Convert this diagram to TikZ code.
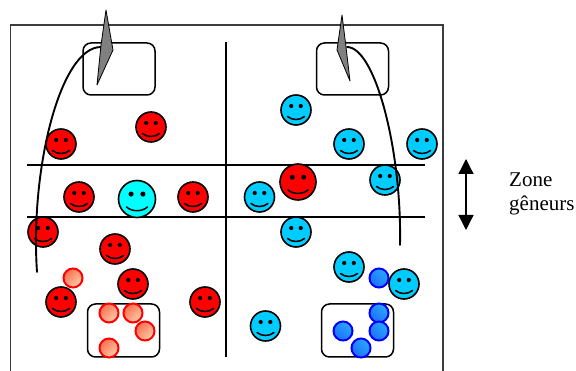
\documentclass[tikz,border=0pt]{standalone}
\usepackage{fontspec}
\setmainfont{Liberation Serif}
\usetikzlibrary{arrows.meta}
\definecolor{smileblue}{RGB}{0,204,255}
\definecolor{smileaqua}{RGB}{0,255,255}
\definecolor{smilered}{RGB}{255,0,0}
\definecolor{frameline}{RGB}{60,60,60}
\definecolor{balllight}{RGB}{255,205,170}
\definecolor{balldark}{RGB}{250,110,80}
\definecolor{bluelight}{RGB}{40,170,255}
\definecolor{bluedark}{RGB}{30,110,255}

\tikzset{
  smileyface/.style={circle,draw=black,line width=1.6pt,inner sep=0pt},
  ballred/.style={circle,draw=red,line width=2pt,minimum size=19pt,inner sep=0pt,shading=axis,top color=balldark,bottom color=balllight,shading angle=45},
  ballblue/.style={circle,draw=blue,line width=2pt,minimum size=19pt,inner sep=0pt,shading=axis,top color=bluedark,bottom color=bluelight,shading angle=135},
  roundbox/.style={draw=black,line width=1.5pt,rounded corners=8pt,inner sep=0pt},
  track/.style={line width=1.9pt,line cap=round},
  wall/.style={line width=1.3pt},
  dart/.style={draw=black,fill=gray,line width=0.8pt,line join=round},
}

% name, colour, position, radius
\newcommand{\smiley}[4]{
  \node[smileyface,fill=#2,minimum size=#4*2pt] (#1) at (#3) {};
  \begin{scope}[shift={(#1.center)},scale=#4/15]
    \fill (-4.8,-4) circle (2.1);
    \fill (4.8,-4) circle (2.1);
    \draw[line width=1.5pt,line cap=round] (-8.5,6.5) .. controls (-4,10.5) and (4,10.5) .. (8.5,6.5);
  \end{scope}
}

\begin{document}
\begin{tikzpicture}[x=1pt,y=-1pt]
  \useasboundingbox (0,0) rectangle (576,371);
  \coordinate (frame_sw) at (10.5,371);
  \coordinate (frame_nw) at (10.5,25);
  \coordinate (frame_ne) at (443,25);
  \coordinate (frame_se) at (443,371);
  \draw[line width=1.6pt,draw=frameline] (frame_sw) -- (frame_nw) -- (frame_ne) -- (frame_se);

  \coordinate (mid_top) at (226,42);
  \coordinate (mid_bot) at (226,357);
  \coordinate (zone_tl) at (27,165);
  \coordinate (zone_tr) at (425,165);
  \coordinate (zone_bl) at (27,217);
  \coordinate (zone_br) at (425,217);
  \draw[wall] (mid_top) -- (mid_bot);
  \draw[wall] (zone_tl) -- (zone_tr);
  \draw[wall] (zone_bl) -- (zone_br);

  \node[roundbox,minimum width=72pt,minimum height=52pt] (box_nw) at (119,69) {};
  \node[roundbox,minimum width=72pt,minimum height=52pt] (box_ne) at (352.5,69) {};
  \node[roundbox,minimum width=72pt,minimum height=53pt] (box_sw) at (123.5,330.5) {};
  \node[roundbox,minimum width=72pt,minimum height=53pt] (box_se) at (357.5,330.5) {};

  % red side
  \smiley{r1}{smilered}{151,127}{15}
  \smiley{r2}{smilered}{61,144}{15}
  \smiley{r3}{smilered}{79,197}{15}
  \smiley{r4}{smilered}{193,197}{15}
  \smiley{r5}{smilered}{43,232}{15}
  \smiley{r6}{smilered}{115,249}{15}
  \smiley{r7}{smilered}{133,284}{15}
  \smiley{r8}{smilered}{61,302}{15}
  \smiley{r9}{smilered}{205,302}{15}
  \smiley{c1}{smileaqua}{137,199}{18.5}

  % blue side
  \smiley{b1}{smileblue}{296,110}{15}
  \smiley{b2}{smileblue}{349,144}{15}
  \smiley{b3}{smileblue}{422,144}{15}
  \smiley{b4}{smileblue}{385,180}{15}
  \smiley{b5}{smileblue}{259.5,197}{15}
  \smiley{b6}{smileblue}{296,232}{15}
  \smiley{b7}{smileblue}{349,267}{15}
  \smiley{b8}{smileblue}{404,284}{15}
  \smiley{b9}{smileblue}{265.5,326}{15}
  \smiley{r10}{smilered}{298,182}{18}

  \node[ballred] (pr1) at (73,278) {};
  \node[ballred] (pr2) at (109,313) {};
  \node[ballred] (pr3) at (133,313) {};
  \node[ballred] (pr4) at (145,331) {};
  \node[ballred] (pr5) at (109,348) {};
  \node[ballblue] (pb1) at (379,278) {};
  \node[ballblue] (pb2) at (379,313) {};
  \node[ballblue] (pb3) at (379,331) {};
  \node[ballblue] (pb4) at (343,331) {};
  \node[ballblue] (pb5) at (361,348) {};

  \coordinate (run_l) at (37,272);
  \coordinate (run_r) at (400,245);
  \coordinate (tip_l) at (101,47);
  \coordinate (tip_r) at (347,47);
  \draw[track] (run_l) .. controls (30,170) and (60,47) .. (tip_l);
  \draw[track] (run_r) .. controls (402,150) and (375,47) .. (tip_r);

  \fill[dart] (106,10) -- (113,50) -- (97,85) -- (101,45) -- cycle;
  \fill[dart] (342,15) -- (346,47) -- (350,81) -- (337,50) -- cycle;

  \coordinate (zone_up) at (466,159);
  \coordinate (zone_down) at (466,230);
  \draw[{Triangle[width=15pt,length=15pt]}-{Triangle[width=15pt,length=15pt]},line width=1.3pt] (zone_up) -- (zone_down);
  \node[anchor=west,align=left,inner sep=0pt,font=\fontsize{21}{24}\selectfont] (zone_lbl) at (509,194) {Zone\\gêneurs};
\end{tikzpicture}
\end{document}
